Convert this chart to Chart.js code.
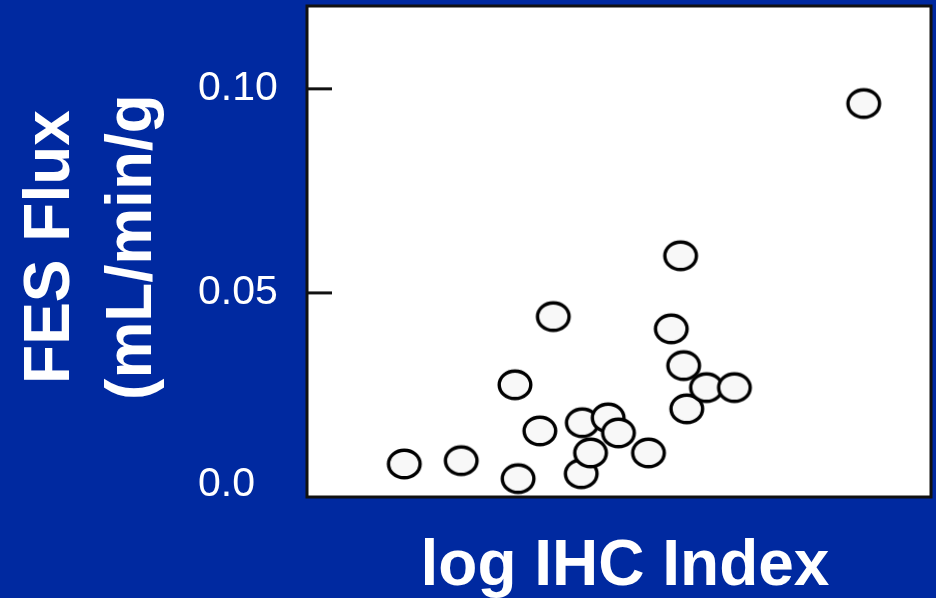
<!DOCTYPE html>
<html>
<head>
<meta charset="utf-8">
<script src="https://cdn.jsdelivr.net/npm/chart.js@4"></script>
<style>
  html, body { margin: 0; padding: 0; background: #0029a0; }
  canvas { display: block; }
</style>
</head>
<body>
<canvas id="chart" width="936" height="598"></canvas>
<script>
// log IHC index (x) and FES flux in mL/min/g (y)
const ihcIndex = [0.94, 1.49, 2.04, 2.01, 2.25, 2.38, 2.65, 2.66, 2.74, 2.91, 3.01, 3.30, 3.52, 3.61, 3.64, 3.67, 3.86, 4.13, 5.38]
const fesFlux  = [0.0081, 0.0089, 0.0045, 0.0275, 0.0162, 0.0442, 0.0057, 0.0182, 0.0108, 0.0194, 0.0157, 0.0108, 0.0412, 0.0591, 0.0322, 0.0216, 0.0268, 0.0268, 0.0964]
const yTickValues = [0, 0.05, 0.10]
const yTickLabels = ['0.0', '0.05', '0.10']
const xTitle = 'log IHC Index'
const yTitle = ['FES Flux', '(mL/min/g']

const points = ihcIndex.map((x, i) => ({ x: x, y: fesFlux[i] }))

// ellipse marker, slightly wider than tall like the original
const marker = document.createElement('canvas')
marker.width = 40
marker.height = 36
const mctx = marker.getContext('2d')
mctx.beginPath()
mctx.ellipse(20, 18, 15.8, 13.8, 0, 0, Math.PI * 2)
mctx.fillStyle = '#f8f8f8'
mctx.fill()
mctx.lineWidth = 3.4
mctx.strokeStyle = '#000'
mctx.stroke()

const frame = {
    id: 'frame',
    beforeDraw(chart) {
        const { ctx, chartArea: a } = chart
        ctx.save()
        ctx.fillStyle = '#0029a0'
        ctx.fillRect(0, 0, chart.width, chart.height)
        ctx.fillStyle = '#ffffff'
        ctx.fillRect(a.left, a.top, a.right - a.left, a.bottom - a.top)
        ctx.restore()
    },
    afterDraw(chart) {
        const { ctx, chartArea: a } = chart
        const y = chart.scales.y
        ctx.save()
        ctx.strokeStyle = '#111'
        ctx.lineWidth = 3
        ctx.strokeRect(a.left, a.top, a.right - a.left, a.bottom - a.top)

        // inward tick marks and labels on the y axis
        ctx.fillStyle = '#ffffff'
        ctx.font = '41px "Liberation Sans", Arial, sans-serif'
        ctx.textAlign = 'left'
        ctx.textBaseline = 'middle'
        yTickValues.forEach((v, i) => {
            const py = y.getPixelForValue(v)
            if (v > 0) {
                ctx.beginPath()
                ctx.moveTo(a.left, py)
                ctx.lineTo(a.left + 25, py)
                ctx.stroke()
            }
            ctx.fillText(yTickLabels[i], 198, v === 0 ? py - 12 : py)
        })

        // axis titles
        ctx.font = 'bold 64px "Liberation Sans", Arial, sans-serif'
        ctx.textAlign = 'center'
        ctx.textBaseline = 'alphabetic'
        ctx.fillText(xTitle, 625, 585)
        const baselines = [69, 151]
        yTitle.forEach((t, i) => {
            ctx.save()
            ctx.translate(baselines[i], 247)
            ctx.rotate(-Math.PI / 2)
            ctx.fillText(t, 0, 0)
            ctx.restore()
        })
        ctx.restore()
    }
}

const ctx = document.getElementById('chart').getContext('2d')
new Chart(ctx, {
    type: 'scatter',
    data: {
        datasets: [
            {
                data: points,
                pointStyle: marker,
            }
        ]
    },
    options: {
        responsive: false,
        animation: false,
        devicePixelRatio: 1,
        layout: { padding: { left: 307, top: 6, right: 2, bottom: 101 } },
        plugins: { legend: { display: false }, tooltip: { enabled: false } },
        scales: {
            x: { type: 'linear', display: false, min: 0, max: 6.03 },
            y: { type: 'linear', display: false, min: 0, max: 0.1203 }
        }
    },
    plugins: [frame]
})
</script>
</body>
</html>
